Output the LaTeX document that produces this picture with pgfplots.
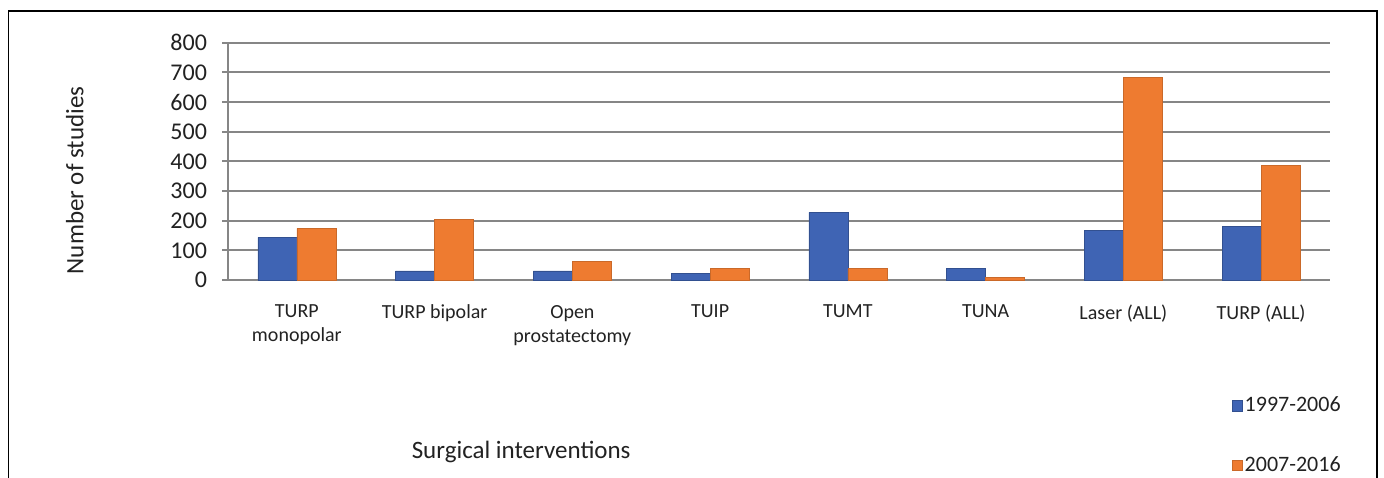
\documentclass[border=0pt]{standalone}
\usepackage{fontspec}
\setmainfont{Carlito}
\usepackage{pgfplots}
\pgfplotsset{compat=1.18}
\definecolor{barblue}{HTML}{3F64B4}
\definecolor{barorange}{HTML}{EE7B30}
\definecolor{gridgray}{HTML}{868686}
\definecolor{txt}{HTML}{222222}

\begin{document}
\begin{tikzpicture}
\useasboundingbox (0pt,0pt) rectangle (692pt,-238.5pt);
\draw[line width=0.9pt] (4.2pt,-5.5pt) rectangle (688.5pt,-270pt);
\begin{axis}[
  at={(114pt,-140pt)}, anchor=south west,
  scale only axis, width=551pt, height=118.65pt,
  font=\fontsize{10}{12}\selectfont, text=txt,
  /pgf/number format/assume math mode=true,
  ybar=0pt, bar width=19.5pt,
  xmin=0.5, xmax=8.5, ymin=0, ymax=800,
  ytick={0,100,...,800},
  xtick={1,...,8},
  xticklabels={TURP\\monopolar, TURP bipolar, Open\\prostatectomy, TUIP, TUMT, TUNA, Laser (ALL), TURP (ALL)},
  xticklabel style={align=center, yshift=-6pt},
  major x tick style={draw=none},
  extra x ticks={0.5,1.5,...,8.5},
  extra x tick labels={},
  extra x tick style={grid=none, major tick length=3pt, tick style={draw=gridgray, line width=0.9pt}},
  tick align=outside, major tick length=3pt,
  ytick style={draw=gridgray, line width=0.9pt},
  ymajorgrids, grid style={gridgray, line width=0.9pt},
  axis x line*=bottom, axis y line*=left,
  axis line style={gridgray, line width=0.9pt, -},
  yticklabel style={xshift=-4pt, font=\fontsize{12}{14}\selectfont},
  ylabel={Number of studies},
  ylabel style={at={(axis description cs:-0.139,0.42)}, anchor=center, font=\fontsize{12.5}{15}\selectfont},
  xlabel={Surgical interventions},
  xlabel style={at={(axis description cs:0.266,-0.725)}, anchor=center, font=\fontsize{12.5}{15}\selectfont},
  legend style={at={(axis description cs:0.905,-0.465)}, anchor=north west,
    draw=none, fill=none, row sep=19pt, font=\fontsize{11}{13}\selectfont,
    nodes={inner sep=1pt}},
  legend cell align=left,
  legend image code/.code={\fill[#1] (0pt,-2.6pt) rectangle (5.2pt,2.6pt);},
]
\addplot[fill=barblue, draw=barblue!80!black, line width=0.3pt] coordinates {
  (1,144) (2,31) (3,31) (4,22) (5,228) (6,38) (7,167) (8,181)};
\addplot[fill=barorange, draw=barorange!85!black, line width=0.3pt] coordinates {
  (1,174) (2,205) (3,62) (4,38) (5,38) (6,8) (7,682) (8,387)};
\legend{1997-2006, 2007-2016}
\end{axis}
\end{tikzpicture}
\end{document}
